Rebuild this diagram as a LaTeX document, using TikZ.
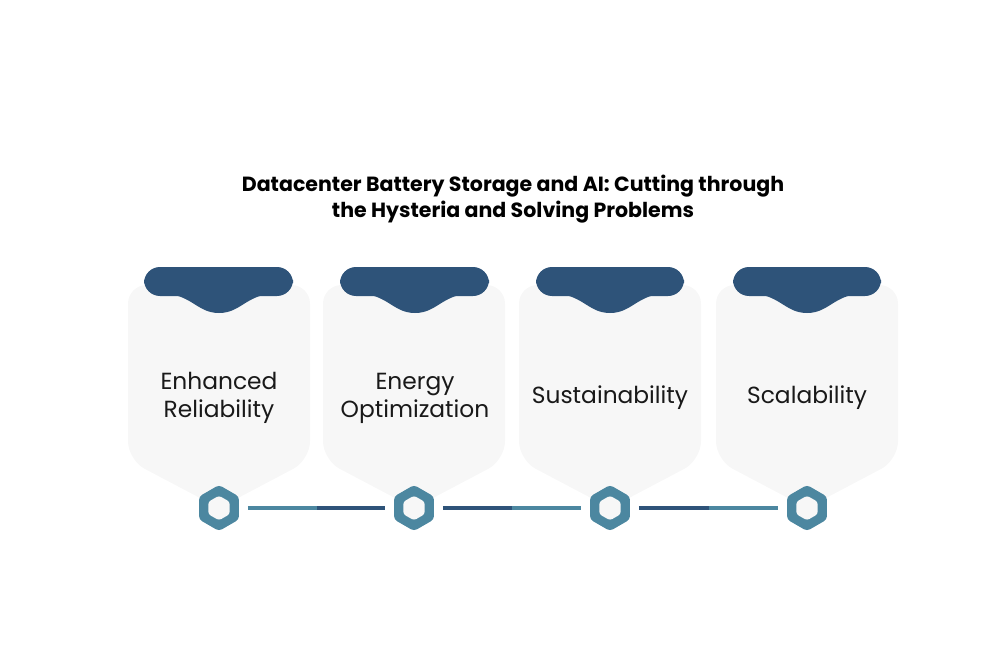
\documentclass[tikz,border=0pt]{standalone}
\usepackage{fontspec}
\setmainfont{Poppins}
\usepackage{tikz}
\usetikzlibrary{shapes.geometric}
\usetikzlibrary{calc}
\definecolor{tabblue}{HTML}{2E5379}
\definecolor{hexteal}{HTML}{4C87A0}
\definecolor{cardgray}{HTML}{F7F7F7}
\tikzset{
  card/.style={fill=cardgray, rounded corners=14},
  tabtop/.style={fill=tabblue, rounded corners=12},
  tabwave/.style={fill=tabblue},
  hexout/.style={regular polygon, regular polygon sides=6, shape border rotate=30, fill=hexteal, minimum size=34.5pt, inner sep=0pt, rounded corners=2.5pt},
  hexin/.style={regular polygon, regular polygon sides=6, shape border rotate=30, fill=cardgray, minimum size=18.5pt, inner sep=0pt, rounded corners=2pt},
  lbl/.style={align=center, font=\fontsize{17.5}{21}\selectfont, text=black!90},
  link/.style={line width=3pt, shorten <=6.5pt, shorten >=6.5pt},
}

\begin{document}
\begin{tikzpicture}[x=0.75pt, y=-0.75pt]
\useasboundingbox (0,0) rectangle (998,652);
%%% title
\node[align=center, font=\bfseries\fontsize{15.4}{19.5}\selectfont] (title) at (513,199) {Datacenter Battery Storage and AI: Cutting through\\the Hysteria and Solving Problems};
%%% Draws the cards
% gray bodies
\fill[card] (128,285) -- (310,285) -- (310,460) -- (219,508) -- (128,460) -- cycle;
\fill[card] (323,285) -- (505,285) -- (505,460) -- (414,508) -- (323,460) -- cycle;
\fill[card] (519,285) -- (701,285) -- (701,460) -- (610,508) -- (519,460) -- cycle;
\fill[card] (716,285) -- (898,285) -- (898,460) -- (807,508) -- (716,460) -- cycle;
% blue tabs
\fill[tabtop] (144,267) rectangle (293,296);
\fill[tabwave] (158,293) .. controls (192,293) and (196,313) .. (219,313) .. controls (242,313) and (246,293) .. (280,293) -- cycle;
\fill[tabtop] (340,267) rectangle (489,296);
\fill[tabwave] (354,293) .. controls (388,293) and (392,313) .. (415,313) .. controls (438,313) and (442,293) .. (476,293) -- cycle;
\fill[tabtop] (536,267) rectangle (684,296);
\fill[tabwave] (549,293) .. controls (583,293) and (587,313) .. (610,313) .. controls (633,313) and (637,293) .. (671,293) -- cycle;
\fill[tabtop] (733,267) rectangle (881,296);
\fill[tabwave] (746,293) .. controls (780,293) and (784,313) .. (807,313) .. controls (830,313) and (834,293) .. (868,293) -- cycle;
% labels
\node[lbl] (reliab) at (219,398) {Enhanced\\Reliability};
\node[lbl] (energy) at (415,398) {Energy\\Optimization};
\node[lbl] (sustain) at (610,398) {Sustainability};
\node[lbl] (scal) at (807,398) {Scalability};
%%% Draws the timeline
% hexagons
\node[hexout] (h1) at (219,508) {};
\node[hexout] (h2) at (414,508) {};
\node[hexout] (h3) at (610,508) {};
\node[hexout] (h4) at (807,508) {};
\node[hexin] (h1i) at (h1) {};
\node[hexin] (h2i) at (h2) {};
\node[hexin] (h3i) at (h3) {};
\node[hexin] (h4i) at (h4) {};
% connectors
\coordinate (m1) at ($(h1)!0.5!(h2)$);
\coordinate (m2) at ($(h2)!0.5!(h3)$);
\coordinate (m3) at ($(h3)!0.5!(h4)$);
\draw[link, hexteal, shorten >=0pt] (h1) -- (m1);
\draw[link, tabblue, shorten <=0pt] (m1) -- (h2);
\draw[link, tabblue, shorten >=0pt] (h2) -- (m2);
\draw[link, hexteal, shorten <=0pt] (m2) -- (h3);
\draw[link, tabblue, shorten >=0pt] (h3) -- (m3);
\draw[link, hexteal, shorten <=0pt] (m3) -- (h4);
\end{tikzpicture}
\end{document}
